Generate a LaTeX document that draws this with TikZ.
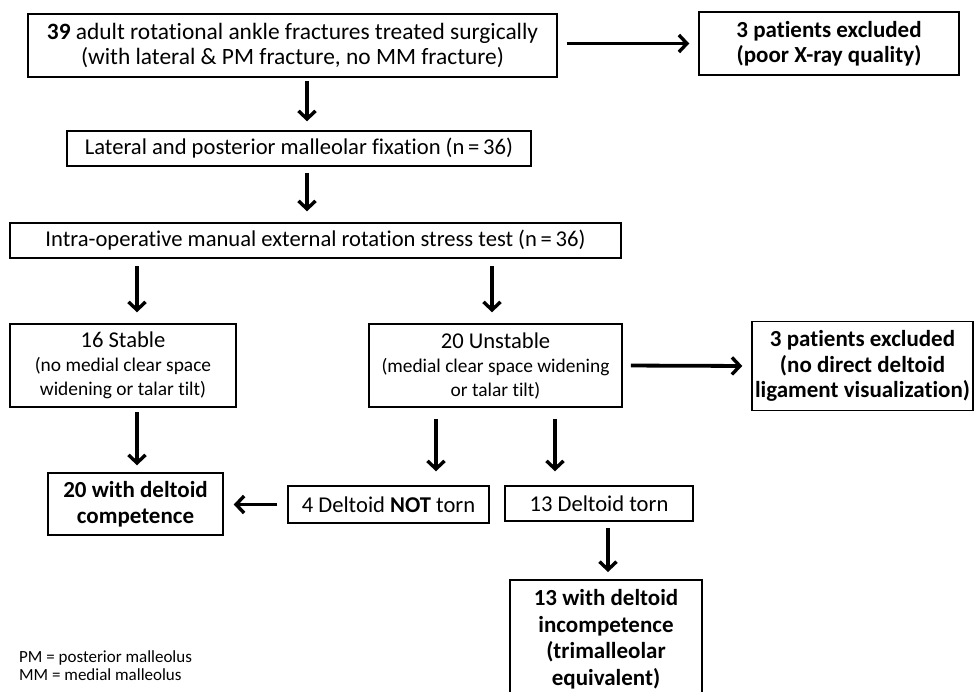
\documentclass[tikz,border=0pt]{standalone}
\usepackage{fontspec}
\setmainfont{Carlito}[Ligatures=NoCommon]
\usetikzlibrary{arrows.meta,calc}
\begin{document}
\begin{tikzpicture}[x=1pt,y=-1pt,
  box/.style={draw,line width=1.5pt,inner sep=0pt,align=center,font=\fontsize{22.6}{25}\selectfont},
  bbox/.style={box,font=\bfseries\fontsize{23}{25.5}\selectfont},
  sbox/.style={box,font=\fontsize{19.4}{24}\selectfont},
  arr/.style={line width=3.8pt,-{Straight Barb[length=8pt,width=17pt,line width=3.4pt]}}]
\useasboundingbox (0,0) rectangle (974,691);
\clip (0,0) rectangle (974,691);
\node[box,minimum width=529pt,minimum height=63pt,font=\fontsize{23.4}{25}\selectfont] (b1) at (292.5,45.5)
  {\textbf{39} adult rotational ankle fractures treated surgically\\(with lateral \& PM fracture, no MM fracture)};
\node[bbox,minimum width=260pt,minimum height=63pt] (e1) at (829,43.5)
  {3 patients excluded\\(poor X-ray quality)};
\node[box,minimum width=464pt,minimum height=35pt] (b2) at (299,148.5)
  {Lateral and posterior malleolar fixation (n\,=\,36)};
\node[box,minimum width=611pt,minimum height=35pt] (b3) at (315.5,240.5)
  {Intra-operative manual external rotation stress test (n\,=\,36)};
\node[sbox,minimum width=226pt,minimum height=83pt] (st) at (123,365.5)
  {{\fontsize{22.6}{25}\selectfont 16 Stable}\\(no medial clear space\\widening or talar tilt)};
\node[sbox,minimum width=253pt,minimum height=83pt] (un) at (495.5,365.5)
  {{\fontsize{22.6}{25}\selectfont 20 Unstable}\\(medial clear space widening\\or talar tilt)};
\node[bbox,minimum width=221pt,minimum height=89pt] (e2) at (862.5,366)
  {3 patients excluded\\(no direct deltoid\\ligament visualization)};
\node[bbox,minimum width=175pt,minimum height=62pt] (co) at (135.5,504)
  {20 with deltoid\\competence};
\node[box,minimum width=201pt,minimum height=37pt] (nt) at (388.5,504.5)
  {4 Deltoid \textbf{NOT} torn};
\node[box,minimum width=188pt,minimum height=35pt] (to) at (599,503.5)
  {13 Deltoid torn};
\node[bbox,font=\bfseries\fontsize{23}{26.5}\selectfont,minimum width=192pt,inner ysep=10pt,anchor=north] (ic) at (606,579)
  {13 with deltoid\\incompetence\\(trimalleolar\\equivalent)};
\node[anchor=north west,align=left,inner sep=0pt,font=\fontsize{17}{18.5}\selectfont] (lg) at (19,650)
  {PM = posterior malleolus\\MM = medial malleolus};
% connectors
\coordinate (xa) at (307,0);
\coordinate (xb) at (137,0);
\coordinate (xc) at (492,0);
\coordinate (xd) at (436,0);
\coordinate (xe) at (555,0);
\coordinate (xf) at (608,0);
\draw[arr,shorten <=9pt,shorten >=9pt] (b1.east |- e1) -- (e1.west);
\draw[arr,shorten <=3pt,shorten >=9pt] (b1.south -| xa) -- (b2.north -| xa);
\draw[arr,shorten <=6pt,shorten >=11pt] (b2.south -| xa) -- (b3.north -| xa);
\draw[arr,shorten <=7pt,shorten >=11pt] (b3.south -| xb) -- (st.north -| xb);
\draw[arr,shorten <=7pt,shorten >=11pt] (b3.south -| xc) -- (un.north -| xc);
\draw[arr,shorten <=8pt,shorten >=9pt] (un.east) -- (e2.west);
\draw[arr,shorten <=4pt,shorten >=7pt] (st.south -| xb) -- (co.north -| xb);
\draw[arr,shorten <=11pt,shorten >=14pt] (un.south -| xd) -- (nt.north -| xd);
\draw[arr,shorten <=11pt,shorten >=14pt] (un.south -| xe) -- (to.north -| xe);
\draw[arr,shorten <=10pt,shorten >=10pt] (nt.west) -- (co.east |- nt.west);
\draw[arr,shorten <=6pt,shorten >=7pt] (to.south -| xf) -- (ic.north -| xf);
\end{tikzpicture}
\end{document}
